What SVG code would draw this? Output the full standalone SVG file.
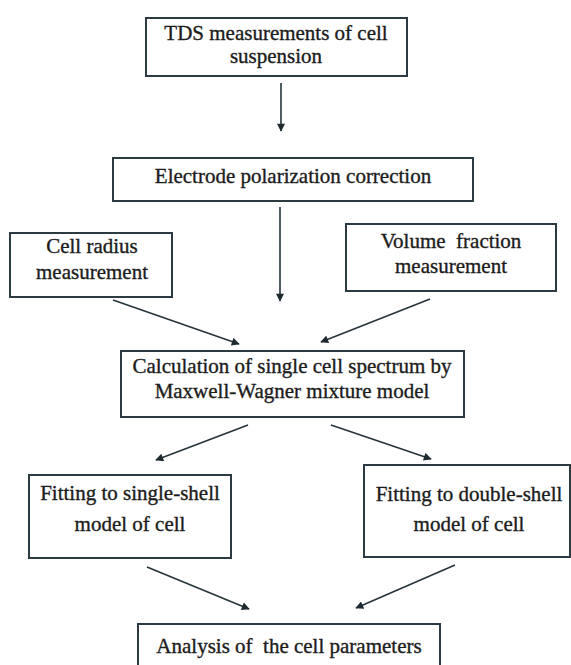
<svg xmlns="http://www.w3.org/2000/svg" width="571" height="665" viewBox="0 0 571 665">
  <style>
    .box { fill: none; stroke: #2c3b42; stroke-width: 2; }
    .lbl { font-family: 'Liberation Serif', 'DejaVu Serif', serif; font-size: 21px; fill: #1c1c1c; stroke: #1c1c1c; stroke-width: 0.35; text-anchor: middle; white-space: pre; }
    .edge { stroke: #26343a; stroke-width: 1.6; fill: none; marker-end: url(#arrow); }
  </style>
  <defs>
    <marker id="arrow" viewBox="0 0 10 10" refX="9" refY="5" markerWidth="9" markerHeight="8" markerUnits="userSpaceOnUse" orient="auto">
      <path d="M0,0 L10,5 L0,10 z" fill="#1e2a30"/>
    </marker>
  </defs>
  <rect width="571" height="665" fill="#ffffff"/>

  <g id="tds">
    <rect class="box" x="146" y="18" width="261" height="58"/>
    <text class="lbl" x="276" y="40">TDS measurements of cell</text>
    <text class="lbl" x="276" y="63">suspension</text>
  </g>

  <g id="electrode">
    <rect class="box" x="113" y="158" width="360" height="43"/>
    <text class="lbl" x="293" y="183">Electrode polarization correction</text>
  </g>

  <g id="radius">
    <rect class="box" x="10" y="233" width="162" height="64"/>
    <text class="lbl" x="92" y="253">Cell radius</text>
    <text class="lbl" x="92" y="279">measurement</text>
  </g>

  <g id="volume">
    <rect class="box" x="346" y="224" width="210" height="67"/>
    <text class="lbl" x="451" y="248" xml:space="preserve">Volume  fraction</text>
    <text class="lbl" x="451" y="273">measurement</text>
  </g>

  <g id="calculation">
    <rect class="box" x="121" y="351" width="343" height="66"/>
    <text class="lbl" x="292" y="373">Calculation of single cell spectrum by</text>
    <text class="lbl" x="292" y="398">Maxwell-Wagner mixture model</text>
  </g>

  <g id="single-shell">
    <rect class="box" x="29" y="475" width="202" height="83"/>
    <text class="lbl" x="130" y="500">Fitting to single-shell</text>
    <text class="lbl" x="130" y="531">model of cell</text>
  </g>

  <g id="double-shell">
    <rect class="box" x="364" y="465" width="206" height="92"/>
    <text class="lbl" x="469" y="501">Fitting to double-shell</text>
    <text class="lbl" x="469" y="531">model of cell</text>
  </g>

  <g id="analysis">
    <rect class="box" x="138" y="624" width="302" height="46"/>
    <text class="lbl" x="289" y="653" xml:space="preserve">Analysis of  the cell parameters</text>
  </g>

  <g id="connectors">
    <line class="edge" x1="281" y1="83" x2="281" y2="131"/>
    <line class="edge" x1="280" y1="207" x2="280" y2="301"/>
    <line class="edge" x1="113" y1="300" x2="239" y2="344"/>
    <line class="edge" x1="430" y1="299" x2="321" y2="342"/>
    <line class="edge" x1="248" y1="425" x2="156" y2="460"/>
    <line class="edge" x1="331" y1="425" x2="431" y2="459"/>
    <line class="edge" x1="147" y1="567" x2="249" y2="609"/>
    <line class="edge" x1="455" y1="565" x2="356" y2="608"/>
  </g>
</svg>
